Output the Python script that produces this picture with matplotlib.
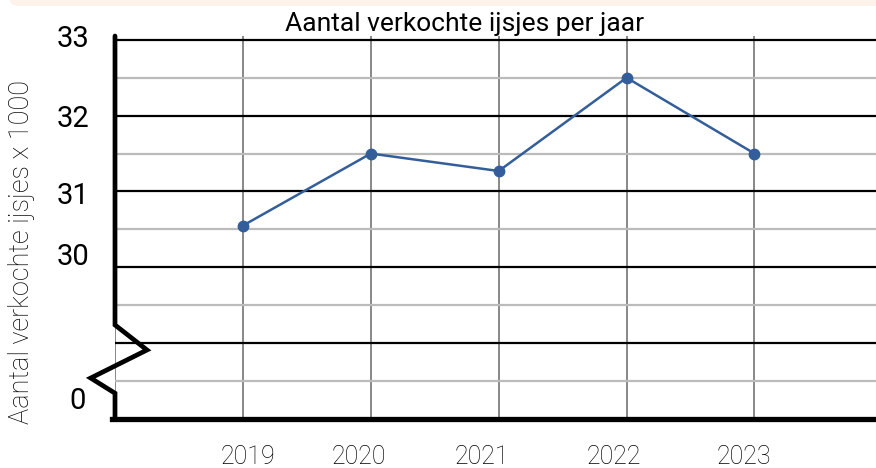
import matplotlib.pyplot as plt
from matplotlib.patches import FancyBboxPatch

# data (x 1000 ijsjes)
years = [2019, 2020, 2021, 2022, 2023]
sold = [30.55, 31.5, 31.27, 32.5, 31.5]
tick_vals = [0, 30, 31, 32, 33]
title = 'Aantal verkochte ijsjes per jaar'
ylabel = 'Aantal verkochte ijsjes x 1000'

# broken axis: 30..33 drawn at 2..5, below that compressed to 0
offset = 28
def to_u(v):
    return v - offset if v >= 30 else 0

plt.rcParams['font.family'] = 'Roboto'
fig = plt.figure(figsize=(8.76, 4.68), dpi=100)

# beige strip at the top
fig.patches.append(FancyBboxPatch((10 / 876, 1 - 6 / 468), 1.0, 0.05,
                                  boxstyle='round,pad=0,rounding_size=0.012',
                                  transform=fig.transFigure, fc='#fdf3ea',
                                  ec='none', zorder=0))

ax = fig.add_axes([115 / 876, 49 / 468, 761 / 876, (419 - 36) / 468])
ax.set_xlim(2018, 2023.95)
ax.set_ylim(0, 5.05)

# grid
for x in [2018] + years:
    ax.axvline(x, color='#888888', lw=1.4, zorder=1)
for k in range(1, 11):
    u = k * 0.5
    if k % 2 == 0:
        ax.axhline(u, color='black', lw=1.6, zorder=2)
    else:
        ax.axhline(u, color='#bbbbbb', lw=1.6, zorder=1)

# axis lines with zigzag
zx = [2018, 2018, 2018.25, 2017.81, 2018, 2018]
zy = [5.05, 1.24, 0.91, 0.54, 0.34, 0]
ax.plot(zx, zy, color='black', lw=3.4, clip_on=False, zorder=5,
        solid_capstyle='round', solid_joinstyle='miter')
ax.plot([2017.98, 2024], [0, 0], color='black', lw=3.8, clip_on=False,
        zorder=5)

# data line
ax.plot(years, [to_u(v) for v in sold], color='#345e9a', lw=1.8,
        marker='o', ms=7.5, zorder=6)

for s in ax.spines.values():
    s.set_visible(False)
ax.set_xticks([])
ax.set_yticks([])

# year labels sit slightly left of their gridlines
x_shift = [0.04, -0.09, -0.13, -0.10, -0.08]
for y, dx in zip(years, x_shift):
    ax.text(y + dx, -0.47, str(y), fontsize=18, fontweight='light',
            color='black', ha='center', va='center_baseline', clip_on=False)

# y tick labels (30 and 0 sit a bit higher than their lines)
y_shift = {0: 0.28, 30: 0.18, 31: -0.02, 32: 0.0, 33: 0.05}
for v in tick_vals:
    ax.text(2017.8 if v else 2017.77, to_u(v) + y_shift[v], str(v),
            fontsize=21, ha='right', va='center_baseline', clip_on=False)

fig.text(465 / 876, 1 - 24 / 468, title, fontsize=19, ha='center',
         va='center')
fig.text(22 / 876, 1 - 252 / 468, ylabel, fontsize=19.5, rotation=90,
         ha='center', va='center', fontweight='light', color='black')

fig.savefig('out.png', dpi=100)
